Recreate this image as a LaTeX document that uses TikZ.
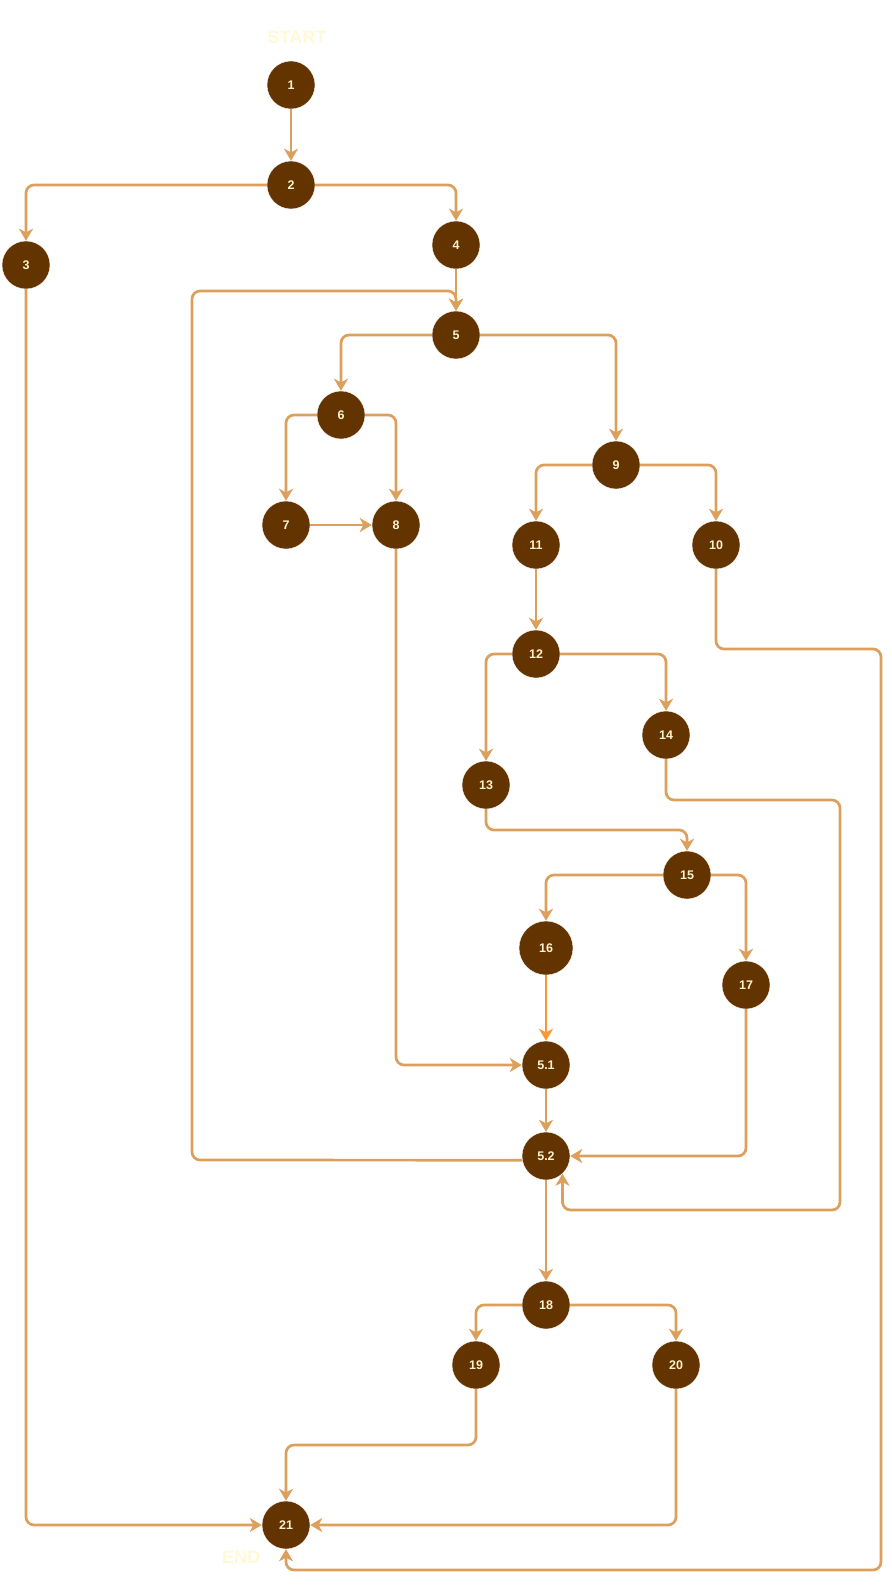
\documentclass[tikz,border=0pt]{standalone}
\usepackage{fontspec}
\setmainfont{Liberation Sans}
\usetikzlibrary{arrows.meta}
\definecolor{nbrown}{RGB}{99,51,0}
\definecolor{ncream}{RGB}{255,242,204}
\definecolor{ecol}{RGB}{221,160,92}
\definecolor{ecolb}{RGB}{252,152,52}
\definecolor{lblcol}{RGB}{255,249,214}
\begin{document}
\begin{tikzpicture}[x=1pt,y=-1pt,
  nd/.style={circle, fill=nbrown, draw=white, line width=0.4pt, text=ncream, minimum size=48pt, inner sep=0pt,
    font=\bfseries\fontsize{12.5}{14}\selectfont},
  bignd/.style={nd, minimum size=54pt},
  lbl/.style={text=lblcol, font=\bfseries\fontsize{18}{20}\selectfont, inner sep=0pt},
  ed/.style={draw=ecol, line width=2.7pt, rounded corners=8pt,
    -{Stealth[length=12pt,width=14pt,inset=3.5pt]}},
  edb/.style={ed, draw=ecolb}]
\useasboundingbox (0,0) rectangle (891,1586);
% labels
\node[lbl] (start) at (297,37) {START};
\node[lbl] (endl) at (241,1557) {END};
% nodes
\node[nd] (n1) at (291,85) {1};
\node[nd] (n2) at (291,185) {2};
\node[nd] (n3) at (26,265) {3};
\node[nd] (n4) at (456,245) {4};
\node[nd] (n5) at (456,335) {5};
\node[nd] (n6) at (341,415) {6};
\node[nd] (n7) at (286,525) {7};
\node[nd] (n8) at (396,525) {8};
\node[nd] (n9) at (616,465) {9};
\node[nd] (n10) at (716,545) {10};
\node[nd] (n11) at (536,545) {11};
\node[nd] (n12) at (536,654) {12};
\node[nd] (n13) at (486,785) {13};
\node[nd] (n14) at (666,735) {14};
\node[nd] (n15) at (687,875) {15};
\node[bignd] (n16) at (546,948) {16};
\node[nd] (n17) at (746,985) {17};
\node[nd] (n51) at (546,1065) {5.1};
\node[nd] (n52) at (546,1156) {5.2};
\node[nd] (n18) at (546,1305) {18};
\node[nd] (n19) at (476,1365) {19};
\node[nd] (n20) at (676,1365) {20};
\node[nd] (n21) at (286,1525) {21};
% helper coordinates
\coordinate (c10a) at (881,649);
\coordinate (c10b) at (881,1570);
\coordinate (c13) at (486,830);
\coordinate (c14a) at (840,800);
\coordinate (c14b) at (840,1210);
\coordinate (c19) at (476,1445);
\coordinate (cl1) at (192,1160);
\coordinate (cl2) at (192,291);
% edges
\draw[ed] (n1) -- (n2);
\draw[ed] (n2.west) -| (n3.north);
\draw[ed] (n2.east) -| (n4.north);
\draw[ed] (n3.south) |- (n21.west);
\draw[ed] (n4) -- (n5);
\draw[ed] (n5.west) -| (n6.north);
\draw[ed] (n5.east) -| (n9.north);
\draw[ed] (n6.west) -| (n7.north);
\draw[ed] (n6.east) -| (n8.north);
\draw[ed] (n7) -- (n8);
\draw[ed] (n8.south) |- (n51.west);
\draw[ed] (n9.west) -| (n11.north);
\draw[ed] (n9.east) -| (n10.north);
\draw[ed] (n11) -- (n12);
\draw[ed] (n12.west) -| (n13.north);
\draw[ed] (n12.east) -| (n14.north);
\draw[ed] (n10.south) |- (c10a) -- (c10b) -| (n21.south);
\draw[ed] (n13.south) -- (c13) -| (n15.north);
\draw[ed] (n14.south) |- (c14a) -- (c14b) -| (n52.-47);
\draw[ed] (n15.west) -| (n16.north);
\draw[ed] (n15.east) -| (n17.north);
\draw[edb] (n16) -- (n51);
\draw[ed] (n17.south) |- (n52.east);
\draw[ed] (n51) -- (n52);
\draw[ed] (n52.190) -- (cl1) -- (cl2) -| (n5.north);
\draw[ed] (n52) -- (n18);
\draw[ed] (n18.west) -| (n19.north);
\draw[ed] (n18.east) -| (n20.north);
\draw[ed] (n19.south) -- (c19) -| (n21.north);
\draw[ed] (n20.south) |- (n21.east);
\end{tikzpicture}
\end{document}
